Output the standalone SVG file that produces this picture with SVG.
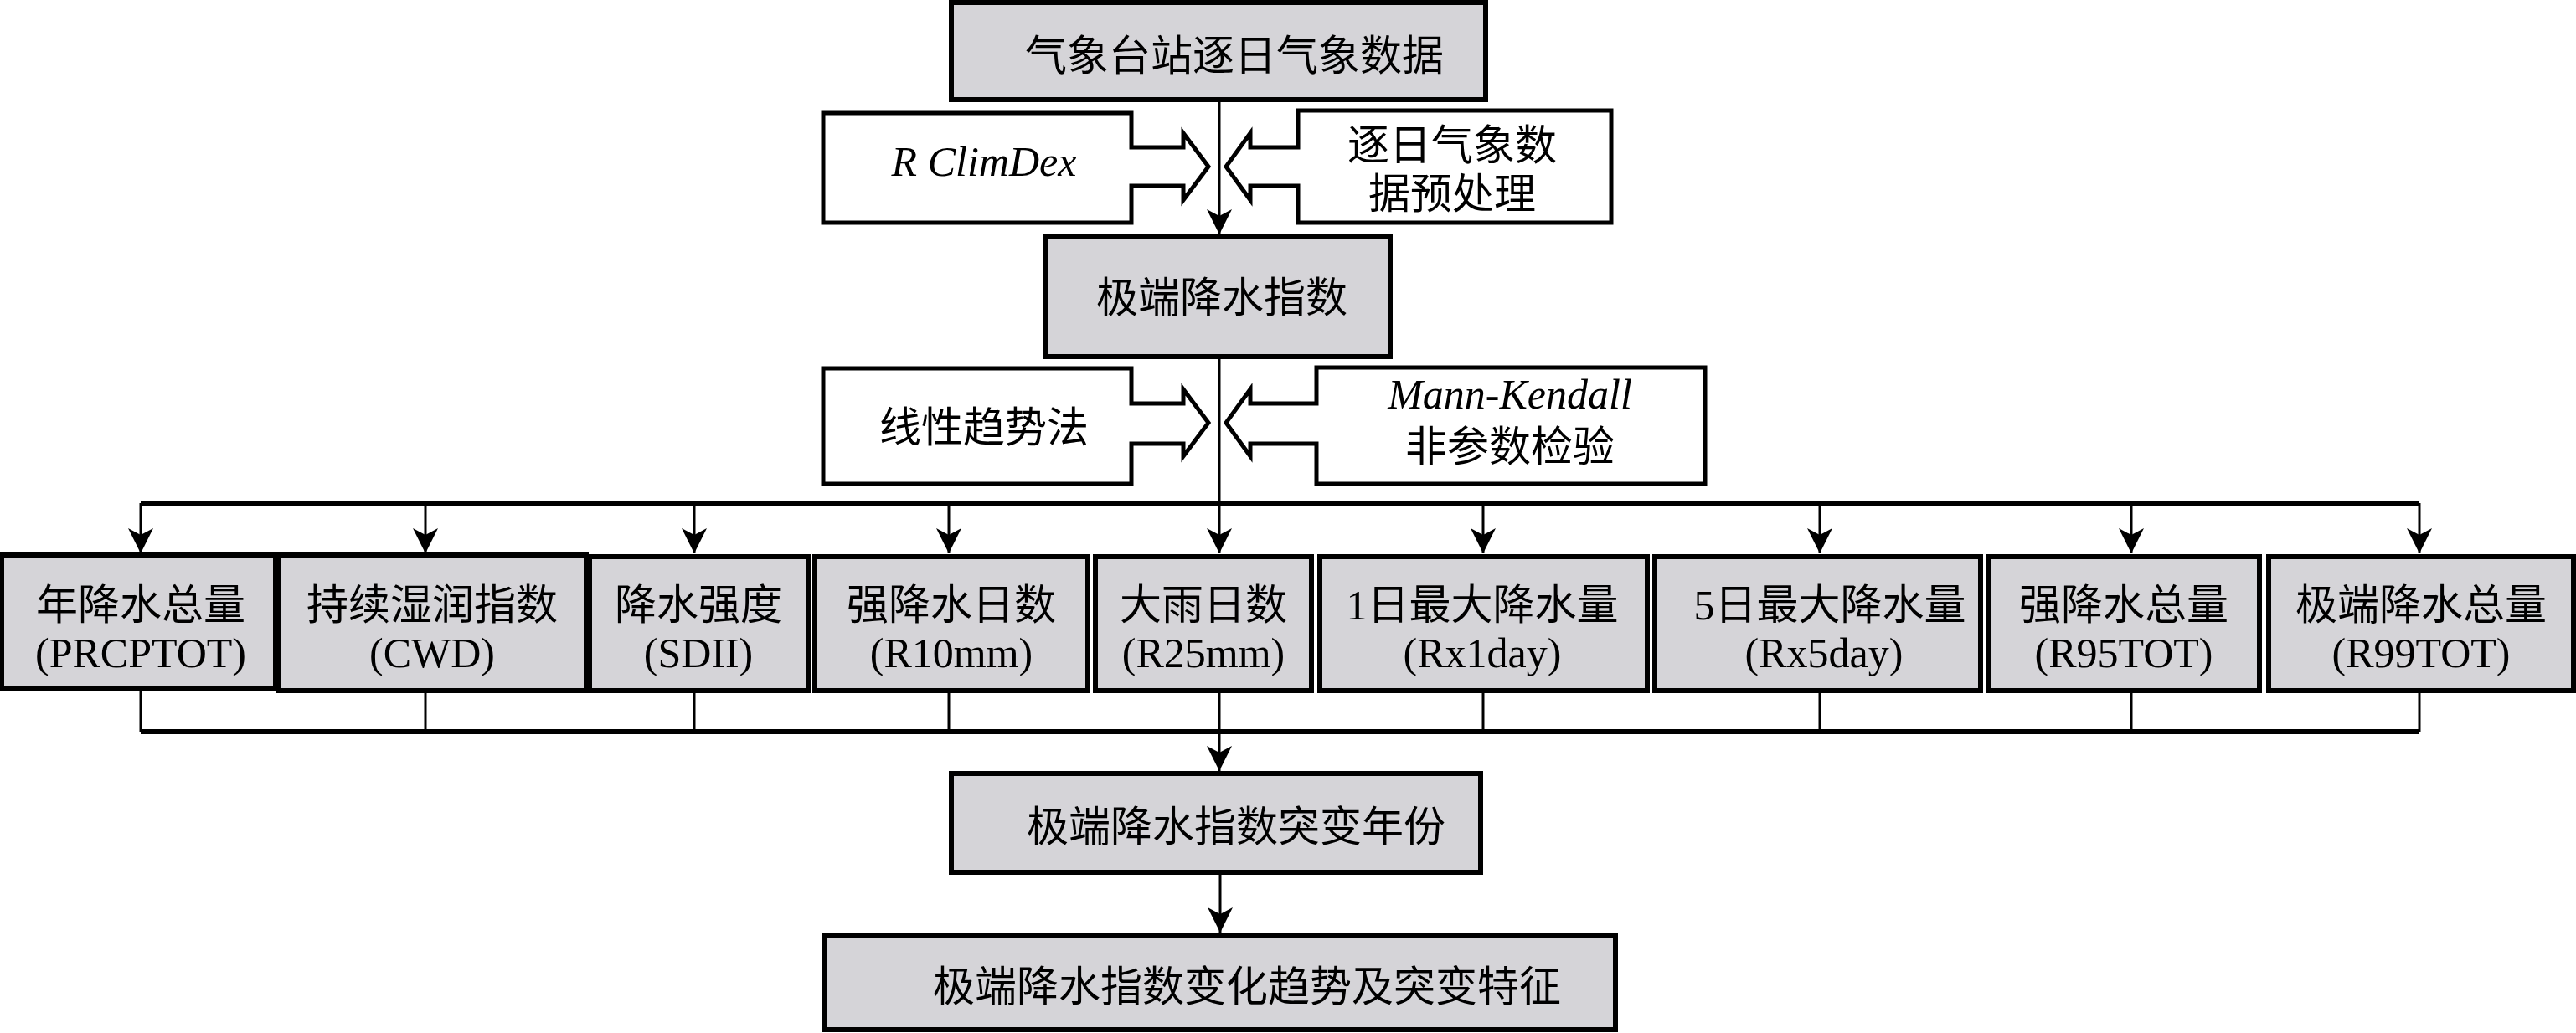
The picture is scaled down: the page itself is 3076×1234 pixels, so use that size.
<svg xmlns="http://www.w3.org/2000/svg" width="3076" height="1234" viewBox="0 0 3076 1234">
<style>
.box{fill:#d5d4d8;stroke:#000;stroke-width:6}
.wb{fill:#fff;stroke:#000;stroke-width:5}
.ln{fill:none;stroke:#000;stroke-width:3}
.hl{fill:none;stroke:#000;stroke-width:6}
text{font-family:"Liberation Serif","Noto Sans CJK SC",serif;font-size:50px;text-anchor:middle;fill:#000}
.it{font-style:italic}
</style>
<defs>
<marker id="ah" markerUnits="userSpaceOnUse" markerWidth="34" markerHeight="44" refX="30" refY="15" orient="auto" viewBox="0 0 34 30">
<path d="M0,0 L30,15 L0,30 L8,15 Z" fill="#000"/>
</marker>
</defs>
<rect width="3076" height="1234" fill="#fff"/>
<g id="connectors">
<line class="ln" x1="1456" y1="119" x2="1456" y2="280" marker-end="url(#ah)"/>
<line class="ln" x1="1456" y1="426" x2="1456" y2="601"/>
<line class="hl" x1="168" y1="601" x2="2889" y2="601"/>
<line class="ln" x1="168" y1="601" x2="168" y2="661" marker-end="url(#ah)"/>
<line class="ln" x1="508" y1="601" x2="508" y2="661" marker-end="url(#ah)"/>
<line class="ln" x1="829" y1="601" x2="829" y2="661" marker-end="url(#ah)"/>
<line class="ln" x1="1133" y1="601" x2="1133" y2="661" marker-end="url(#ah)"/>
<line class="ln" x1="1456" y1="601" x2="1456" y2="661" marker-end="url(#ah)"/>
<line class="ln" x1="1771" y1="601" x2="1771" y2="661" marker-end="url(#ah)"/>
<line class="ln" x1="2173" y1="601" x2="2173" y2="661" marker-end="url(#ah)"/>
<line class="ln" x1="2545" y1="601" x2="2545" y2="661" marker-end="url(#ah)"/>
<line class="ln" x1="2889" y1="601" x2="2889" y2="661" marker-end="url(#ah)"/>
<line class="ln" x1="168" y1="825" x2="168" y2="874"/>
<line class="ln" x1="508" y1="825" x2="508" y2="874"/>
<line class="ln" x1="829" y1="825" x2="829" y2="874"/>
<line class="ln" x1="1133" y1="825" x2="1133" y2="874"/>
<line class="ln" x1="1456" y1="825" x2="1456" y2="874"/>
<line class="ln" x1="1771" y1="825" x2="1771" y2="874"/>
<line class="ln" x1="2173" y1="825" x2="2173" y2="874"/>
<line class="ln" x1="2545" y1="825" x2="2545" y2="874"/>
<line class="ln" x1="2889" y1="825" x2="2889" y2="874"/>
<line class="hl" x1="168" y1="874" x2="2889" y2="874"/>
<line class="ln" x1="1456" y1="874" x2="1456" y2="921" marker-end="url(#ah)"/>
<line class="ln" x1="1457" y1="1042" x2="1457" y2="1114" marker-end="url(#ah)"/>
</g>
<g id="n-src"><rect class="box" x="1136" y="3" width="638" height="116"/><text x="1474" y="84">气象台站逐日气象数据</text></g>
<g id="n-rclimdex"><path class="wb" d="M983,135 H1351 V176 H1413 V159 L1443,199 L1413,239 V222 H1351 V266 H983 Z"/><text class="it" x="1175" y="210">R ClimDex</text></g>
<g id="n-pre"><path class="wb" d="M1924,132 H1550 V176 H1493 V159 L1464,199 L1493,239 V222 H1550 V266 H1924 Z"/><text x="1734" y="191">逐日气象数</text><text x="1734" y="249">据预处理</text></g>
<g id="n-idx"><rect class="box" x="1249" y="283" width="411" height="143"/><text x="1459" y="373">极端降水指数</text></g>
<g id="n-linear"><path class="wb" d="M983,440 H1351 V482 H1413 V465 L1443,505 L1413,545 V530 H1351 V578 H983 Z"/><text x="1175" y="528">线性趋势法</text></g>
<g id="n-mk"><path class="wb" d="M2036,439 H1572 V482 H1493 V465 L1464,505 L1493,545 V530 H1572 V578 H2036 Z"/><text class="it" x="1803" y="488">Mann-Kendall</text><text x="1803" y="551">非参数检验</text></g>
<g id="n1"><rect class="box" x="2" y="663" width="327" height="160"/><text x="168" y="740">年降水总量</text><text x="168" y="797">(PRCPTOT)</text></g>
<g id="n2"><rect class="box" x="333" y="663" width="367" height="162"/><text x="516" y="740">持续湿润指数</text><text x="516" y="797">(CWD)</text></g>
<g id="n3"><rect class="box" x="704" y="665" width="261" height="160"/><text x="834" y="740">降水强度</text><text x="834" y="797">(SDII)</text></g>
<g id="n4"><rect class="box" x="973" y="665" width="326" height="160"/><text x="1136" y="740">强降水日数</text><text x="1136" y="797">(R10mm)</text></g>
<g id="n5"><rect class="box" x="1308" y="665" width="258" height="160"/><text x="1437" y="740">大雨日数</text><text x="1437" y="797">(R25mm)</text></g>
<g id="n6"><rect class="box" x="1576" y="665" width="391" height="160"/><text x="1770" y="740">1日最大降水量</text><text x="1770" y="797">(Rx1day)</text></g>
<g id="n7"><rect class="box" x="1976" y="665" width="389" height="160"/><text x="2185" y="740">5日最大降水量</text><text x="2178" y="797">(Rx5day)</text></g>
<g id="n8"><rect class="box" x="2374" y="665" width="324" height="160"/><text x="2536" y="740">强降水总量</text><text x="2536" y="797">(R95TOT)</text></g>
<g id="n9"><rect class="box" x="2709" y="665" width="364" height="160"/><text x="2891" y="740">极端降水总量</text><text x="2891" y="797">(R99TOT)</text></g>
<g id="n-year"><rect class="box" x="1136" y="924" width="632" height="118"/><text x="1476" y="1005">极端降水指数突变年份</text></g>
<g id="n-final"><rect class="box" x="985" y="1117" width="944" height="113"/><text x="1489" y="1196">极端降水指数变化趋势及突变特征</text></g>
</svg>
